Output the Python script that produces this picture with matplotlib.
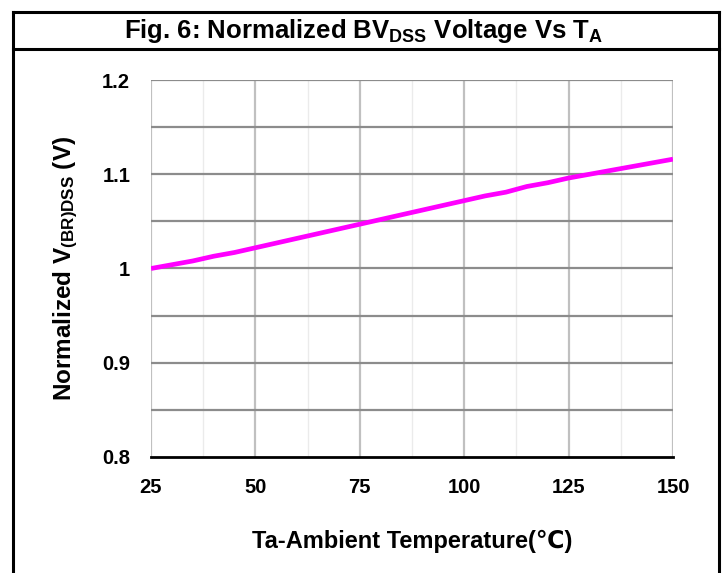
import matplotlib.pyplot as plt
from matplotlib.lines import Line2D

temps = [25, 30, 35, 40, 45, 50, 55, 60, 65, 70, 75, 80, 85,
         90, 95, 100, 105, 110, 115, 120, 125, 130, 135, 140, 145, 150]
bvdss = [1.000, 1.004, 1.008, 1.013, 1.017, 1.022, 1.027, 1.032, 1.037,
         1.042, 1.047, 1.052, 1.057, 1.062, 1.067, 1.072, 1.077, 1.081,
         1.087, 1.091, 1.096, 1.100, 1.104, 1.108, 1.112, 1.116]
x_ticks = [25, 50, 75, 100, 125, 150]
y_ticks = [0.8, 0.9, 1.0, 1.1, 1.2]
y_labels = ['0.8', '0.9', '1', '1.1', '1.2']

plt.rcParams['font.family'] = ['Liberation Sans', 'DejaVu Sans']
plt.rcParams['font.weight'] = 'bold'
plt.rcParams['axes.labelweight'] = 'bold'
plt.rcParams['mathtext.fontset'] = 'custom'
plt.rcParams['mathtext.rm'] = 'Liberation Sans:bold'
plt.rcParams['mathtext.it'] = 'Liberation Sans:bold'
plt.rcParams['mathtext.bf'] = 'Liberation Sans:bold'

fig = plt.figure(figsize=(7.28, 5.73), dpi=100)
ax = fig.add_axes([151 / 728, 1 - 457 / 573, 522 / 728, 377 / 573])

# grid
for t in [37.5, 62.5, 87.5, 112.5, 137.5]:
    ax.axvline(t, color='#ebebeb', lw=1, zorder=0)
for t in [25, 50, 75, 100, 125, 150]:
    ax.axvline(t, color='#c0c0c0', lw=1.6, zorder=1)
for v in [0.85, 0.9, 0.95, 1.0, 1.05, 1.1, 1.15, 1.2]:
    ax.axhline(v, color='#8c8c8c', lw=1.6, zorder=1)

ax.plot(temps, bvdss, color='#ff00ff', lw=3.4, zorder=3, solid_capstyle='butt')

ax.set_xlim(25, 150)
ax.set_ylim(0.8, 1.2)
ax.set_xticks(x_ticks)
ax.set_yticks(y_ticks)
ax.set_yticklabels(y_labels)
ax.tick_params(length=0, labelsize=14.5, pad=15)
for s in ['top', 'right', 'left']:
    ax.spines[s].set_visible(False)
ax.spines['bottom'].set_color('black')
ax.spines['bottom'].set_linewidth(2)
ax.spines['bottom'].set_zorder(4)

ax.set_xlabel('Ta-Ambient Temperature(\u2103)', fontsize=17, labelpad=24)
ax.set_ylabel(r'Normalized V$_{\mathrm{(BR)DSS}}$ (V)', fontsize=17.5, labelpad=16)

fig.text(0.5, 1 - 31 / 573, r'Fig. 6: Normalized BV$_{\mathrm{DSS}}$ Voltage Vs T$_{\mathrm{A}}$',
         ha='center', va='center', fontsize=18.5)

# frame around chart
xl, xr = 13 / 728, 719 / 728
yt, ys = 1 - 12 / 573, 1 - 49 / 573
for xs, yv in [([xl, xl], [0, yt]), ([xr, xr], [0, yt]),
               ([xl, xr], [yt, yt]), ([xl, xr], [ys, ys])]:
    fig.add_artist(Line2D(xs, yv, color='black', lw=2.2, transform=fig.transFigure))

fig.savefig('out.png', dpi=100)
